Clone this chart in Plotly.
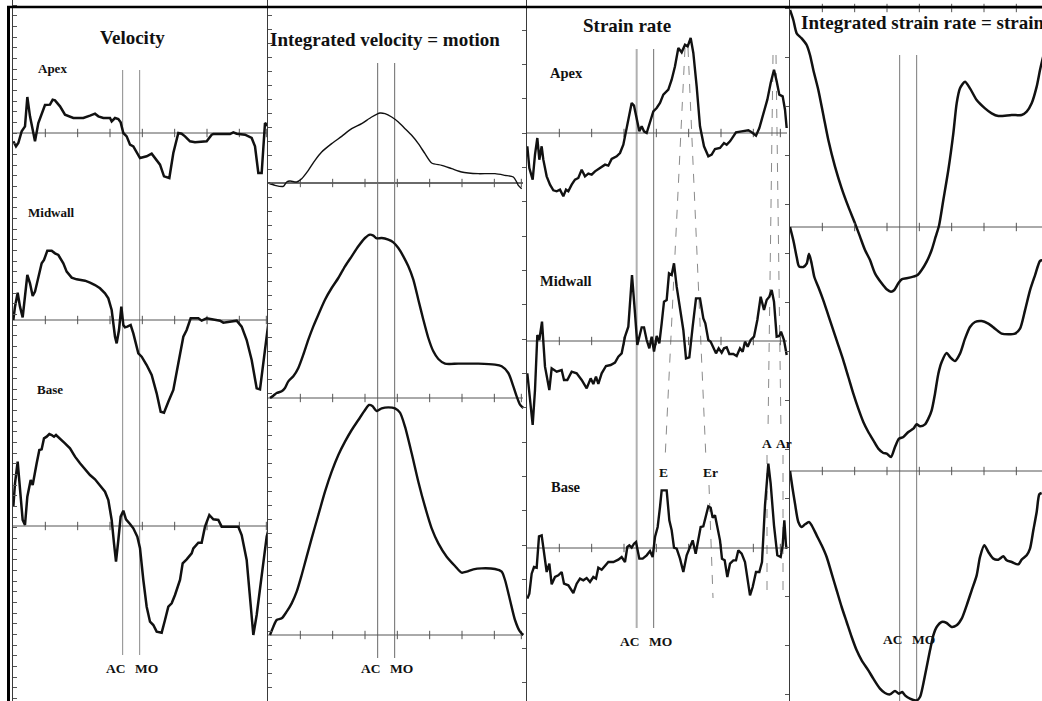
import plotly.graph_objects as go

W, H = 1042, 701

# Event times (ms from start of cycle)
AC_TIME, MO_TIME = 329, 380

# ---- Tissue velocity (ms, value) ----
vel_apex = [(1, -2.5), (9, -4.0), (16, -3.0), (26, 0.5), (36, 2.0), (43, 10.8), (51, 5.0), (59, 1.0),
            (66, -2.5), (76, 3.0), (86, 6.0), (96, 8.4), (111, 8.5), (119, 10.0), (126, 9.8), (141, 8.0),
            (156, 5.5), (171, 5.0), (181, 4.5), (211, 4.5), (221, 4.8), (231, 5.2), (246, 5.8), (256, 5.0),
            (271, 4.5), (291, 4.5), (296, 3.5), (306, 4.5), (316, 4.2), (323, 3.2), (331, 0.0), (341, -1.0),
            (351, -3.5), (361, -4.0), (381, -7.5), (401, -7.0), (416, -6.2), (431, -8.0), (441, -9.5),
            (453, -13.0), (469, -13.5), (481, -6.0), (496, 0.0), (506, -0.2), (516, -1.0), (531, -2.5),
            (546, -2.8), (581, -2.5), (596, -0.5), (601, -0.3), (651, -0.3), (661, 0.2), (671, -0.2),
            (696, -0.5), (716, -1.5), (726, -4.0), (736, -12.0), (746, -12.0), (756, 3.0), (766, 2.0)]

vel_mid = [(1, 0.0), (6, 4.0), (14, 8.2), (21, 4.0), (29, 0.8), (36, 7.0), (43, 13.5), (51, 11.0),
           (59, 7.2), (66, 8.5), (76, 13.0), (86, 17.0), (93, 18.0), (103, 20.8), (116, 20.8), (126, 20.0),
           (136, 19.5), (151, 17.0), (161, 14.5), (176, 12.7), (191, 12.2), (216, 11.8), (231, 11.2),
           (246, 10.5), (261, 9.5), (276, 8.0), (286, 6.5), (296, 3.0), (306, -5.0), (311, -7.0),
           (318, -3.0), (325, 4.0), (331, -1.5), (336, -2.2), (343, -2.0), (353, -1.5), (361, -4.0),
           (371, -8.0), (376, -10.0), (386, -11.0), (401, -13.5), (416, -16.5), (431, -22.0), (443, -27.5),
           (453, -27.8), (466, -24.5), (481, -21.0), (496, -13.0), (511, -5.0), (521, -3.0), (533, 0.5),
           (556, 0.5), (566, -0.2), (581, 0.5), (601, 0.2), (621, -0.2), (631, -0.8), (661, -0.2),
           (671, -0.2), (686, -2.0), (701, -6.0), (716, -12.0), (731, -20.5), (741, -20.8), (751, -13.0),
           (761, -5.0), (766, -1.0)]

vel_base = [(1, 5.8), (6, 12.8), (14, 19.3), (21, 11.8), (29, 1.8), (36, 0.3), (43, 8.8), (53, 13.8),
            (59, 12.3), (71, 18.8), (79, 22.8), (86, 23.0), (93, 26.3), (101, 26.8), (109, 27.6), (116, 27.3),
            (123, 26.8), (129, 27.3), (141, 26.3), (156, 24.8), (171, 23.3), (186, 20.8), (201, 18.8),
            (216, 17.0), (231, 15.3), (246, 14.0), (261, 12.0), (276, 10.3), (286, 7.8), (296, 1.8),
            (303, -5.2), (309, -10.7), (316, -4.2), (323, 2.8), (331, 4.6), (339, 2.0), (351, 0.6),
            (361, -0.7), (373, -3.2), (381, -6.7), (391, -16.2), (401, -24.2), (411, -28.7), (421, -29.7),
            (431, -31.7), (446, -32.0), (456, -28.2), (466, -24.2), (476, -23.2), (486, -20.7), (501, -16.2),
            (509, -11.2), (521, -10.0), (536, -8.2), (541, -6.7), (556, -5.0), (566, -5.0), (576, -0.2),
            (589, 3.3), (601, 2.0), (616, 1.8), (626, -0.2), (676, -0.2), (686, -2.7), (701, -10.2),
            (711, -21.2), (721, -32.7), (731, -26.7), (741, -19.2), (751, -10.2), (761, -3.2), (766, -1.2)]

# ---- Integrated velocity = motion ----
mot_apex = [(1, 0.0), (21, -0.7), (46, -1.0), (56, 0.3), (66, 0.6), (86, 0.3), (101, 1.3), (121, 3.8),
            (141, 6.8), (161, 9.3), (191, 11.8), (221, 14.0), (251, 16.3), (281, 17.8), (311, 19.8),
            (336, 21.0), (351, 20.8), (371, 19.8), (391, 18.3), (411, 16.3), (431, 14.3), (451, 11.8),
            (471, 8.8), (491, 6.0), (521, 5.3), (551, 4.3), (581, 3.3), (601, 3.0), (631, 2.8), (681, 2.8),
            (711, 2.3), (736, 1.8), (746, 0.3), (751, -0.7), (761, -1.7)]

mot_mid = [(6, 0.0), (16, 0.7), (26, 1.5), (41, 2.0), (51, 3.0), (61, 5.0), (76, 6.5), (91, 9.0),
           (106, 13.0), (121, 17.5), (136, 21.5), (151, 25.0), (171, 29.5), (191, 33.0), (211, 36.0),
           (231, 39.5), (251, 42.5), (271, 45.5), (291, 48.0), (306, 49.0), (316, 48.7), (326, 47.9),
           (341, 48.0), (361, 47.5), (376, 46.7), (391, 45.0), (406, 42.5), (421, 39.5), (436, 35.5),
           (451, 29.5), (466, 23.5), (481, 18.0), (496, 14.0), (511, 11.7), (531, 10.3), (571, 10.3),
           (631, 10.3), (681, 10.0), (701, 9.5), (721, 7.5), (736, 3.5), (746, 0.5), (756, -2.0), (766, -3.0)]

mot_base = [(6, 0.0), (16, 2.5), (26, 4.5), (41, 5.0), (56, 7.0), (71, 9.5), (86, 13.0), (101, 18.0),
            (116, 23.5), (131, 29.0), (151, 36.0), (171, 43.0), (191, 49.0), (211, 54.0), (231, 58.0),
            (251, 61.5), (271, 64.5), (291, 67.5), (303, 69.0), (313, 68.7), (326, 67.2), (341, 68.0),
            (361, 68.3), (381, 68.0), (396, 66.7), (411, 62.5), (431, 54.5), (451, 46.0), (471, 38.5),
            (491, 32.0), (511, 27.5), (536, 23.5), (561, 20.7), (581, 18.7), (596, 19.0), (616, 19.7),
            (641, 20.0), (681, 19.8), (701, 19.0), (711, 16.5), (726, 10.5), (741, 4.5), (756, 1.0), (766, 0.0)]

# ---- Strain rate ----
sr_apex = [(1, -4.0), (7, -10.5), (17, -14.0), (24, -6.5), (31, -1.5), (37, -8.0), (44, -4.0), (49, -8.0),
           (59, -13.0), (69, -15.5), (79, -17.2), (89, -17.5), (99, -17.0), (109, -19.0), (117, -17.0),
           (124, -17.5), (134, -15.5), (144, -14.0), (154, -13.5), (164, -11.0), (174, -13.0), (184, -12.2),
           (194, -12.5), (204, -11.5), (219, -10.5), (234, -9.5), (244, -9.8), (254, -7.8), (269, -7.0),
           (279, -6.0), (289, -3.5), (299, 1.5), (307, 6.0), (314, 9.0), (321, 8.2), (329, 4.0), (337, 0.5),
           (344, 2.0), (351, 0.5), (359, 0.0), (369, 3.5), (379, 6.5), (389, 7.5), (399, 9.0), (409, 11.5),
           (424, 13.0), (434, 16.0), (444, 20.0), (454, 25.5), (464, 24.2), (474, 26.5), (482, 26.0),
           (491, 28.5), (499, 24.0), (509, 14.0), (519, 2.0), (531, -4.0), (544, -7.0), (554, -6.5),
           (564, -4.8), (579, -4.5), (591, -3.0), (599, -3.5), (609, -2.5), (619, -1.0), (627, 0.2),
           (644, 0.5), (664, 0.8), (674, 0.2), (687, -0.8), (697, 1.5), (709, 6.0), (721, 10.0), (731, 15.0),
           (741, 19.0), (749, 15.5), (757, 11.5), (767, 11.0), (774, 7.0), (779, 1.5)]

sr_mid = [(1, -9.7), (9, -16.7), (17, -25.2), (24, -14.7), (31, 1.8), (37, 0.3), (45, 5.8), (54, -7.7),
          (67, -14.7), (74, -8.2), (89, -9.2), (104, -8.7), (111, -11.7), (121, -11.7), (134, -9.2),
          (149, -9.7), (164, -11.7), (179, -14.2), (191, -11.2), (199, -12.9), (207, -10.7), (214, -12.9),
          (224, -9.7), (237, -7.5), (251, -7.2), (264, -6.5), (274, -4.7), (284, -3.7), (294, 1.3), (304, 4.3),
          (315, 19.8), (324, 8.3), (331, -1.2), (344, 4.1), (351, 4.1), (359, 0.3), (367, -2.2), (374, 1.3),
          (381, -3.2), (389, 1.5), (397, -0.7), (404, 5.3), (411, 11.8), (419, 12.3), (426, 20.3),
          (434, 19.8), (441, 23.3), (449, 16.3), (459, 9.3), (469, 3.3), (477, -5.2), (487, -4.9), (497, 4.3),
          (507, 12.8), (519, 12.8), (529, 6.8), (535, 5.3), (544, 0.3), (551, -0.2), (559, -2.2), (567, -3.7),
          (575, -2.2), (584, -3.5), (591, -2.2), (599, -1.9), (607, -3.9), (619, -3.9), (629, -4.5),
          (639, -2.2), (647, -3.2), (654, -0.2), (662, -1.7), (671, 0.3), (681, 1.3), (691, 6.3), (701, 13.3),
          (711, 9.3), (719, 12.3), (727, 13.3), (734, 15.3), (741, 11.8), (749, 1.3), (757, 1.5), (762, 2.8),
          (771, 0.3), (779, -4.2)]

sr_base = [(1, -15.2), (7, -13.7), (14, -7.7), (21, -5.7), (29, -5.9), (36, 3.5), (44, 3.8), (51, -1.2),
           (59, -7.2), (67, -4.7), (74, -10.9), (84, -8.7), (94, -8.2), (104, -7.2), (111, -10.7),
           (124, -11.2), (139, -13.5), (149, -10.7), (159, -9.2), (169, -9.7), (179, -9.0), (189, -10.2),
           (199, -8.7), (207, -9.2), (214, -5.9), (224, -6.5), (234, -5.2), (244, -4.2), (259, -4.2),
           (274, -3.5), (284, -2.7), (294, -4.2), (301, 0.3), (307, 0.8), (314, 0.1), (321, 1.3), (327, 1.8),
           (337, -3.2), (347, -3.2), (359, -2.2), (369, -0.9), (377, -2.7), (384, 3.3), (392, 6.3),
           (399, 12.3), (404, 17.3), (419, 17.3), (427, 8.3), (434, 5.3), (441, 0.1), (449, -0.2),
           (459, -3.2), (469, -7.2), (479, -2.2), (487, -0.2), (497, 2.3), (506, -1.7), (514, 2.8), (521, 6.3),
           (529, 6.5), (535, 9.3), (544, 12.5), (551, 12.1), (557, 9.1), (564, 9.8), (571, 6.3), (579, 2.3),
           (585, -3.2), (593, -3.7), (601, -8.7), (609, -4.7), (619, -3.7), (627, -3.7), (634, -0.7),
           (644, -1.7), (654, -4.2), (661, -8.7), (669, -14.2), (677, -11.7), (687, -7.2), (697, -7.2),
           (705, -4.2), (714, 12.8), (724, 25.3), (731, 19.3), (741, 6.8), (751, -2.2), (761, -2.7),
           (767, 0.8), (772, 8.3), (777, 0.8), (779, -0.2)]

# ---- Integrated strain rate = strain ----
st_apex = [(0, -0.6), (10, -3.6), (20, -7.6), (35, -9.1), (50, -11.1), (60, -14.1), (70, -18.6), (85, -24.6),
           (100, -32.1), (115, -39.6), (135, -47.6), (155, -54.1), (175, -59.6), (195, -64.6), (210, -68.6),
           (225, -72.6), (240, -75.6), (255, -79.6), (275, -82.6), (290, -84.4), (303, -85.1), (313, -84.6),
           (325, -82.6), (335, -81.4), (350, -81.1), (370, -80.6), (383, -80.1), (395, -78.6), (410, -76.1),
           (425, -72.6), (437, -68.6), (447, -65.3), (460, -57.6), (475, -48.6), (490, -37.6), (500, -28.6),
           (510, -24.1), (525, -22.1), (540, -24.1), (560, -27.6), (585, -30.1), (605, -31.6), (625, -32.4),
           (665, -32.1), (695, -32.1), (710, -31.1), (725, -28.6), (740, -23.6), (750, -18.6), (757, -15.6),
           (770, -10.6)]

st_mid = [(0, 0.0), (10, -4.0), (20, -9.0), (27, -11.8), (40, -12.0), (50, -11.0), (57, -8.0), (65, -11.0),
          (73, -15.0), (85, -18.0), (100, -22.0), (115, -26.5), (130, -31.0), (145, -35.5), (160, -40.0),
          (175, -45.0), (190, -50.0), (205, -54.5), (220, -58.5), (235, -61.5), (250, -64.0), (265, -66.5),
          (280, -67.8), (290, -68.0), (303, -69.0), (315, -66.0), (327, -63.5), (340, -63.0), (355, -61.5),
          (370, -60.5), (380, -59.2), (390, -59.8), (405, -59.2), (415, -57.5), (425, -55.0), (435, -50.0),
          (445, -44.0), (455, -40.5), (470, -37.8), (480, -39.0), (495, -40.2), (510, -38.0), (525, -33.5),
          (540, -30.0), (555, -28.5), (575, -28.2), (595, -29.0), (615, -30.5), (635, -32.0), (655, -32.2),
          (675, -32.0), (690, -30.5), (705, -25.0), (720, -19.0), (735, -14.5), (750, -10.2), (757, -10.0)]

st_base = [(0, 0.0), (7, -4.8), (15, -9.8), (25, -15.3), (35, -16.8), (45, -16.0), (57, -15.3), (65, -16.3),
           (80, -19.3), (95, -22.3), (110, -25.8), (125, -30.8), (140, -35.8), (155, -40.8), (170, -45.3),
           (185, -49.8), (200, -53.8), (215, -56.8), (235, -59.8), (250, -62.3), (270, -65.3), (285, -66.6),
           (300, -67.0), (315, -66.0), (327, -66.8), (337, -66.3), (345, -67.3), (360, -68.3), (380, -68.8),
           (390, -67.8), (400, -63.8), (410, -58.8), (420, -53.8), (430, -49.3), (440, -46.8), (455, -45.3),
           (470, -45.6), (485, -46.8), (500, -46.3), (515, -44.3), (530, -40.3), (545, -35.8), (560, -31.3),
           (570, -25.8), (583, -22.3), (595, -24.3), (610, -26.3), (625, -26.6), (640, -25.6), (650, -26.8),
           (665, -27.3), (685, -28.0), (695, -26.6), (710, -25.3), (720, -23.3), (730, -17.8), (740, -12.3),
           (748, -7.0), (755, -6.6)]

# Peak markers in the strain-rate panel (ms): E, Er, A, Ar
E_TIMES = (474, 414)
ER_TIMES = (483, 558)
A_TIMES = (738, 720)
AR_TIMES = (747, 768)

TICK_TIMES = [97, 194, 291, 388, 485, 582, 679, 760]

# Panel layout: left/right pixel edges, zero-line rows, left-axis tick spacing, event-line extent
PANELS = [
    dict(title="Velocity", left=13, right=268, zeros=(133, 320, 526), dtick=3.2, tickdir="inside",
         curves=(vel_apex, vel_mid, vel_base), widths=(2.5, 2.5, 2.5), smooth=False,
         ev_top=70, ev_bot=655, label_y=668, ev_cols=("#8a8a8a", "#8a8a8a"), ev_w=(1, 1)),
    dict(title="Integrated velocity = motion", left=268, right=527, zeros=(183, 398, 635), dtick=4.2,
         tickdir="inside", curves=(mot_apex, mot_mid, mot_base), widths=(1.4, 2.4, 2.4), smooth=True,
         ev_top=63, ev_bot=658, label_y=668, ev_cols=("#6a6a6a", "#6a6a6a"), ev_w=(1, 1)),
    dict(title="Strain rate", left=527, right=790, zeros=(133, 341, 548), dtick=10.3, tickdir="outside",
         curves=(sr_apex, sr_mid, sr_base), widths=(2.4, 2.4, 2.4), smooth=False,
         ev_top=49, ev_bot=628, label_y=641, ev_cols=("#b0b0b0", "#707070"), ev_w=(2, 1)),
    dict(title="Integrated strain rate = strain", left=790, right=1042, zeros=(8, 227, 471), dtick=14.7,
         tickdir="outside", curves=(st_apex, st_mid, st_base), widths=(2.5, 2.5, 2.5), smooth=True,
         ev_top=55, ev_bot=701, label_y=639, ev_cols=("#7a7a7a", "#7a7a7a"), ev_w=(1, 1)),
]
ZERO_LINE_END = (765, 765, 780, 760)

MS_PER_PX = 3.0
UNITS_PER_PX = 0.3

SERIF = "Liberation Serif, Times New Roman, serif"


def py(p):
    return 1 - p / H


def px(p):
    return p / W


fig = go.Figure()
layout = {}
shapes = []
annotations = []

for c, pan in enumerate(PANELS):
    xid = "x" if c == 0 else f"x{c + 1}"
    xname = "xaxis" if c == 0 else f"xaxis{c + 1}"
    span = (pan["right"] - pan["left"]) * MS_PER_PX
    layout[xname] = dict(domain=[px(pan["left"]), px(pan["right"])], range=[0, span], visible=False,
                         fixedrange=True)
    first_y = None
    for r in range(3):
        k = c * 3 + r + 1
        yid = "y" if k == 1 else f"y{k}"
        yname = "yaxis" if k == 1 else f"yaxis{k}"
        z = pan["zeros"][r]
        ax = dict(range=[-(H - z) * UNITS_PER_PX, z * UNITS_PER_PX], anchor=xid, showgrid=False,
                  zeroline=False, showticklabels=False, fixedrange=True)
        if r == 0:
            first_y = yid
            ax.update(domain=[0, 1], showline=True, linecolor="#3a3a3a", linewidth=1,
                      ticks=pan["tickdir"], ticklen=4, tickwidth=1, tickcolor="#555",
                      tick0=0, dtick=pan["dtick"])
        else:
            ax.update(overlaying=first_y, visible=False)
        layout[yname] = ax

        # zero line of the row
        strong = (c == 1 and r == 0)
        shapes.append(dict(type="line", xref=xid, yref=yid, x0=0, x1=ZERO_LINE_END[c], y0=0, y1=0,
                           line=dict(color="#6a6a6a" if strong else "#555", width=2 if strong else 1),
                           layer="below"))
        # small time ticks along the zero line
        fig.add_trace(go.Scatter(x=TICK_TIMES, y=[0] * len(TICK_TIMES), xaxis=xid, yaxis=yid,
                                 mode="markers", hoverinfo="skip",
                                 marker=dict(symbol="line-ns", size=6, line=dict(color="#555", width=1))))
        # the curve
        pts = pan["curves"][r]
        fig.add_trace(go.Scatter(x=[p[0] for p in pts], y=[p[1] for p in pts], xaxis=xid, yaxis=yid,
                                 mode="lines", hoverinfo="skip",
                                 line=dict(color="#111", width=pan["widths"][r],
                                           shape="spline" if pan["smooth"] else "linear",
                                           smoothing=0.7 if pan["smooth"] else None)))

    # aortic valve closure / mitral valve opening lines
    for t, col, w in zip((AC_TIME, MO_TIME), pan["ev_cols"], pan["ev_w"]):
        shapes.append(dict(type="line", xref=xid, yref="paper", x0=t, x1=t,
                           y0=py(pan["ev_bot"]), y1=py(pan["ev_top"]),
                           line=dict(color=col, width=w), layer="below"))
    # event labels
    x_left = pan["left"]
    for t, name, dx in ((AC_TIME, "AC", -13), (MO_TIME, "MO", 13)):
        annotations.append(dict(text=f"<b>{name}</b>", xref="paper", yref="paper",
                                x=px(x_left + t / MS_PER_PX + dx * 0.55), y=py(pan["label_y"]),
                                xanchor="center", yanchor="middle", showarrow=False,
                                font=dict(family=SERIF, size=13.5, color="#111")))

# Panel titles
annotations += [
    dict(text="<b>Velocity</b>", x=px(132), y=py(38), xanchor="center"),
    dict(text="<b>Integrated velocity = motion</b>", x=px(385), y=py(39), xanchor="center"),
    dict(text="<b>Strain rate</b>", x=px(627), y=py(25), xanchor="center"),
    dict(text="<b>Integrated strain rate = strain</b>", x=px(799), y=py(23), xanchor="left"),
]
for a in annotations[-4:]:
    a.update(xref="paper", yref="paper", yanchor="middle", showarrow=False,
             font=dict(family=SERIF, size=19, color="#111"))

# Segment names
for text, x, y, size in (("Apex", 52, 69, 13), ("Midwall", 51, 212, 13), ("Base", 50, 389, 13),
                         ("Apex", 566, 73, 14.5), ("Midwall", 566, 281, 14.5), ("Base", 566, 487, 14.5)):
    annotations.append(dict(text=f"<b>{text}</b>", xref="paper", yref="paper", x=px(x), y=py(y),
                            xanchor="center", yanchor="middle", showarrow=False,
                            font=dict(family=SERIF, size=size, color="#111")))

# Dashed guide lines linking strain-rate peaks across segments
sr_x = "x3"
dash_segments = [
    (E_TIMES[0], 48, E_TIMES[1], 460),
    (ER_TIMES[0], 48, 537, 460), (546, 485, ER_TIMES[1], 598),
    (A_TIMES[0], 55, 723, 432), (A_TIMES[1], 455, A_TIMES[1], 598),
    (AR_TIMES[0], 55, 762, 432), (AR_TIMES[1], 455, AR_TIMES[1], 598),
]
for t0, y0, t1, y1 in dash_segments:
    shapes.append(dict(type="line", xref=sr_x, yref="paper", x0=t0, x1=t1, y0=py(y0), y1=py(y1),
                       line=dict(color="#8a8a8a", width=1, dash="dash"), layer="below"))

for text, x, y in (("E", 663, 472), ("Er", 710, 472), ("A", 767, 443), ("Ar", 784, 443)):
    annotations.append(dict(text=f"<b>{text}</b>", xref="paper", yref="paper", x=px(x), y=py(y),
                            xanchor="center", yanchor="middle", showarrow=False,
                            font=dict(family=SERIF, size=13.5, color="#111")))

# Frame: heavy left rule and top rule
shapes.append(dict(type="line", xref="paper", yref="paper", x0=px(8.5), x1=px(8.5), y0=0, y1=py(6),
                   line=dict(color="#000", width=3)))
shapes.append(dict(type="line", xref="paper", yref="paper", x0=px(7), x1=1, y0=py(7), y1=py(7),
                   line=dict(color="#000", width=2.5)))

fig.update_layout(width=W, height=H, margin=dict(l=0, r=0, t=0, b=0), paper_bgcolor="white",
                  plot_bgcolor="rgba(0,0,0,0)", showlegend=False, shapes=shapes,
                  annotations=annotations, **layout)

fig.write_html("out.html", config={"displayModeBar": False})
